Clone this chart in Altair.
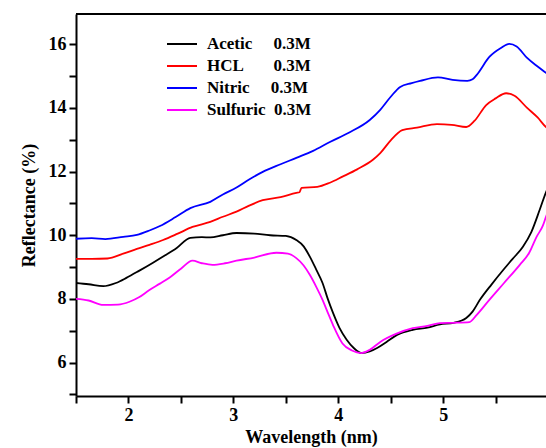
import altair as alt
import pandas as pd

NB = "\u00a0"
series_names = ["Acetic", "HCL", "Nitric", "Sulfuric"]
series_labels = [
    "Acetic" + NB * 5 + "0.3M",
    "HCL" + NB * 7 + "0.3M",
    "Nitric" + NB * 5 + "0.3M",
    "Sulfuric" + NB * 2 + "0.3M",
]
series_colors = ["#000000", "#ff0000", "#0000ff", "#ff00ff"]

# Wavelength (nm) / Reflectance (%)
acetic_x = [1.5, 1.62, 1.76, 1.88, 1.98, 2.1, 2.23, 2.35, 2.46, 2.59, 2.7, 2.78, 2.9, 3.03, 3.2, 3.35, 3.5, 3.6, 3.67, 3.73, 3.79, 3.85, 3.9, 3.95, 4.01, 4.08, 4.15, 4.22, 4.3, 4.37, 4.46, 4.56, 4.71, 4.85, 4.97, 5.1, 5.22, 5.28, 5.35, 5.46, 5.57, 5.66, 5.76, 5.84, 5.92, 5.98, 6.0]
acetic_y = [8.5, 8.46, 8.4, 8.5, 8.66, 8.88, 9.13, 9.37, 9.6, 9.92, 9.94, 9.93, 10.0, 10.07, 10.05, 10.0, 9.98, 9.85, 9.65, 9.32, 8.92, 8.5, 8.0, 7.56, 7.1, 6.72, 6.45, 6.3, 6.35, 6.46, 6.65, 6.87, 7.03, 7.1, 7.2, 7.25, 7.4, 7.6, 7.97, 8.45, 8.9, 9.25, 9.64, 10.1, 10.8, 11.35, 11.5]

hcl_x = [1.5, 1.65, 1.8, 1.95, 2.08, 2.2, 2.33, 2.47, 2.61, 2.78, 2.9, 3.03, 3.15, 3.28, 3.45, 3.6, 3.63, 3.65, 3.8, 3.92, 4.04, 4.18, 4.33, 4.4, 4.5, 4.61, 4.75, 4.94, 5.08, 5.22, 5.3, 5.41, 5.5, 5.6, 5.68, 5.8, 5.9, 5.98, 6.0]
hcl_y = [9.26, 9.26, 9.27, 9.42, 9.57, 9.7, 9.85, 10.05, 10.26, 10.42, 10.58, 10.74, 10.93, 11.1, 11.2, 11.33, 11.35, 11.49, 11.52, 11.65, 11.84, 12.07, 12.37, 12.58, 12.98, 13.3, 13.38, 13.49, 13.47, 13.4, 13.6, 14.09, 14.3, 14.46, 14.38, 14.0, 13.7, 13.4, 13.35]

nitric_x = [1.5, 1.65, 1.78, 1.95, 2.08, 2.2, 2.3, 2.45, 2.59, 2.78, 2.9, 3.03, 3.15, 3.28, 3.45, 3.6, 3.76, 3.92, 4.1, 4.3, 4.4, 4.5, 4.59, 4.7, 4.78, 4.95, 5.09, 5.23, 5.28, 5.32, 5.44, 5.55, 5.63, 5.7, 5.8, 5.9, 5.98, 6.0]
nitric_y = [9.89, 9.91, 9.88, 9.95, 10.01, 10.15, 10.29, 10.57, 10.85, 11.05, 11.28, 11.5, 11.75, 11.99, 12.23, 12.43, 12.65, 12.93, 13.22, 13.62, 13.94, 14.35, 14.66, 14.78, 14.85, 14.96, 14.88, 14.85, 14.9, 15.04, 15.6, 15.88, 16.01, 15.93, 15.57, 15.3, 15.1, 15.05]

sulfuric_x = [1.5, 1.62, 1.76, 1.9, 2.01, 2.1, 2.2, 2.3, 2.4, 2.5, 2.61, 2.7, 2.8, 2.92, 3.03, 3.2, 3.41, 3.52, 3.6, 3.67, 3.73, 3.79, 3.85, 3.9, 3.95, 4.04, 4.13, 4.22, 4.3, 4.4, 4.55, 4.71, 4.85, 4.97, 5.1, 5.25, 5.32, 5.44, 5.58, 5.73, 5.82, 5.89, 5.95, 5.98, 6.0]
sulfuric_y = [8.0, 7.95, 7.81, 7.82, 7.91, 8.05, 8.28, 8.48, 8.69, 8.95, 9.2, 9.12, 9.07, 9.12, 9.2, 9.3, 9.45, 9.42, 9.28, 9.05, 8.75, 8.38, 7.97, 7.57, 7.18, 6.6, 6.38, 6.3, 6.4, 6.65, 6.9, 7.08, 7.15, 7.24, 7.25, 7.27, 7.5, 7.97, 8.5, 9.07, 9.45, 9.95, 10.3, 10.58, 10.75]

frames = []
for lab, xs, ys in zip(series_labels, [acetic_x, hcl_x, nitric_x, sulfuric_x],
                       [acetic_y, hcl_y, nitric_y, sulfuric_y]):
    frames.append(pd.DataFrame({"x": xs, "y": ys, "series": lab}))
df = pd.concat(frames, ignore_index=True)
df["order"] = df.index

x_ticks = [1.5, 2, 2.5, 3, 3.5, 4, 4.5, 5, 5.5, 6]
y_ticks = [5, 6, 7, 8, 9, 10, 11, 12, 13, 14, 15, 16]

W, H = 470, 382
FONT = "Liberation Serif"

lines = alt.Chart(df).mark_line(strokeWidth=1.8, clip=True, interpolate="monotone").encode(
    x=alt.X("x:Q", title="Wavelength (nm)",
            scale=alt.Scale(domain=[1.5, 5.98], nice=False, zero=False),
            axis=alt.Axis(values=x_ticks, grid=False,
                          labelExpr="datum.value % 1 == 0 ? format(datum.value, 'd') : ''")),
    y=alt.Y("y:Q", title="Reflectance (%)",
            scale=alt.Scale(domain=[4.95, 16.95], nice=False, zero=False),
            axis=alt.Axis(values=y_ticks, grid=False,
                          labelExpr="datum.value % 2 == 0 ? format(datum.value, 'd') : ''")),
    color=alt.Color("series:N", scale=alt.Scale(domain=series_labels, range=series_colors),
                    legend=alt.Legend(title=None, orient="none", legendX=95, legendY=19,
                                      symbolType="M-1.5,0L1.5,0", symbolSize=400,
                                      symbolStrokeWidth=2, labelFont=FONT,
                                      labelFontSize=17, labelFontWeight="bold",
                                      labelColor="#000", labelOffset=14,
                                      rowPadding=3, labelLimit=300)),
    detail="series:N",
    order="order:Q",
)

top = alt.Chart(pd.DataFrame({"a": [0]})).mark_rule(color="#000", strokeWidth=2).encode(
    x=alt.value(0), x2=alt.value(W), y=alt.value(0)
)

chart = alt.layer(lines, top).properties(
    width=W, height=H,
    autosize=alt.AutoSizeParams(type="none"),
    padding={"left": 76, "top": 14, "right": 0, "bottom": 52},
).configure_view(stroke=None).configure_axis(
    domainColor="#000", domainWidth=2, tickColor="#000", tickWidth=2, tickSize=7,
    labelFont=FONT, labelFontSize=18, labelFontWeight="bold", labelColor="#000",
    titleFont=FONT, titleFontSize=18, titleFontWeight="bold", titleColor="#000",
    labelPadding=3,
).configure_axisX(titlePadding=4, labelFlush=False).configure_axisY(titlePadding=10)

chart.save("out.html", embed_options={"renderer": "svg", "actions": False})
